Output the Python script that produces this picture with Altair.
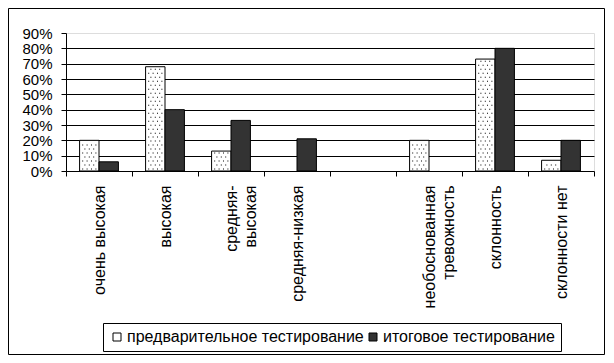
import altair as alt
import pandas as pd

categories = ["очень высокая", "высокая", "средняя-\nвысокая", "средняя-низкая", " ",
              "необоснованная\nтревожность", "склонность", "склонности нет"]
series_names = ["предварительное тестирование", "итоговое тестирование"]
pre_values = [20, 68, 13, 0, 0, 20, 73, 7]
final_values = [6, 40, 33, 21, 0, 0, 80, 20]
y_ticks = [0, 10, 20, 30, 40, 50, 60, 70, 80, 90]

rows = []
for c, p, f in zip(categories, pre_values, final_values):
    rows.append({"cat": c, "series": series_names[0], "value": p})
    rows.append({"cat": c, "series": series_names[1], "value": f})
df = pd.DataFrame(rows)

FONT = "Liberation Sans"

x_scale = alt.Scale(domain=categories, paddingInner=0, paddingOuter=0)
y_scale = alt.Scale(domain=[0, 90], nice=False, zero=True)
xo_scale = alt.Scale(domain=series_names, paddingInner=0, paddingOuter=0.7)

x_axis = alt.Axis(labelAngle=270, labelAlign="right", labelBaseline="middle",
                  labelPadding=9, tickSize=5, tickBand="extent",
                  labelFontSize=16, labelLineHeight=19, labelFont=FONT,
                  labelColor="black", domainColor="black", tickColor="black",
                  labelExpr="split(datum.label, '\\n')", labelOverlap=False,
                  labelLimit=300, grid=False)
y_axis = alt.Axis(values=y_ticks, labelExpr="datum.value + '%'",
                  labelFontSize=15, labelFont=FONT, labelColor="black",
                  labelPadding=9, tickSize=5, tickColor="black",
                  domainColor="black", grid=True, labelOverlap=False,
                  labelBound=False,
                  gridColor={"condition": {"test": "datum.value >= 85 || datum.value <= 0",
                                           "value": "transparent"},
                             "value": "black"},
                  gridOpacity=1)

x_enc = alt.X("cat:N", title=None, scale=x_scale, axis=x_axis)
xo_enc = alt.XOffset("series:N", scale=xo_scale)

frame = alt.Chart(pd.DataFrame({"k": [0]})).mark_rect(
    fillOpacity=0, stroke="black", strokeWidth=1
).encode(
    x=alt.value(-57.5), x2=alt.value(538.5), y=alt.value(-24.5), y2=alt.value(321.5)
)

bars = alt.Chart(df).transform_filter("datum.value > 0").mark_bar(
    stroke="black", strokeWidth=1
).encode(
    x=x_enc,
    xOffset=xo_enc,
    y=alt.Y("value:Q", title=None, scale=y_scale, axis=y_axis),
    fill=alt.Fill("series:N",
                  scale=alt.Scale(domain=series_names, range=["white", "#333333"]),
                  legend=alt.Legend(title=None, orient="none", legendX=37, legendY=290,
                                    direction="horizontal", strokeColor="black",
                                    fillColor="white", padding=6, labelFontSize=16,
                                    labelFont=FONT, labelColor="black", symbolType="square",
                                    symbolSize=64, symbolStrokeColor="black",
                                    symbolStrokeWidth=1, labelOffset=2, columnPadding=1,
                                    labelLimit=400)),
)

# dotted texture of the preliminary-test bars (rows of tiny squares)
row_a = ("M-0.71,-0.05h0.1v0.1h-0.1Z M-0.27,-0.05h0.1v0.1h-0.1Z "
         "M0.17,-0.05h0.1v0.1h-0.1Z M0.61,-0.05h0.1v0.1h-0.1Z")
row_b = "M-0.49,-0.05h0.1v0.1h-0.1Z M-0.05,-0.05h0.1v0.1h-0.1Z M0.39,-0.05h0.1v0.1h-0.1Z"

dots = alt.Chart(df).transform_filter(
    alt.datum.series == series_names[0]
).transform_filter(
    "datum.value > 0"
).transform_calculate(
    r="sequence(1.3, datum.value - 0.6, 2.6)"
).transform_flatten(
    ["r"]
).transform_calculate(
    pat="round((datum.r - 1.3) / 2.6) % 2 == 0 ? 'a' : 'b'"
).mark_point(filled=True, size=400, opacity=1, strokeWidth=0, color="black").encode(
    x=x_enc,
    xOffset=xo_enc,
    y=alt.Y("r:Q", title=None, scale=y_scale, axis=y_axis),
    shape=alt.Shape("pat:N", scale=alt.Scale(domain=["a", "b"], range=[row_a, row_b]),
                    legend=None),
)

chart = alt.layer(frame, bars, dots).properties(
    width=528, height=138,
    autosize=alt.AutoSizeParams(type="none"),
    padding={"left": 58, "top": 25, "right": 11, "bottom": 184},
).configure_view(strokeWidth=0).configure(font=FONT)

chart.save("out.html", embed_options={"renderer": "svg", "actions": False})
